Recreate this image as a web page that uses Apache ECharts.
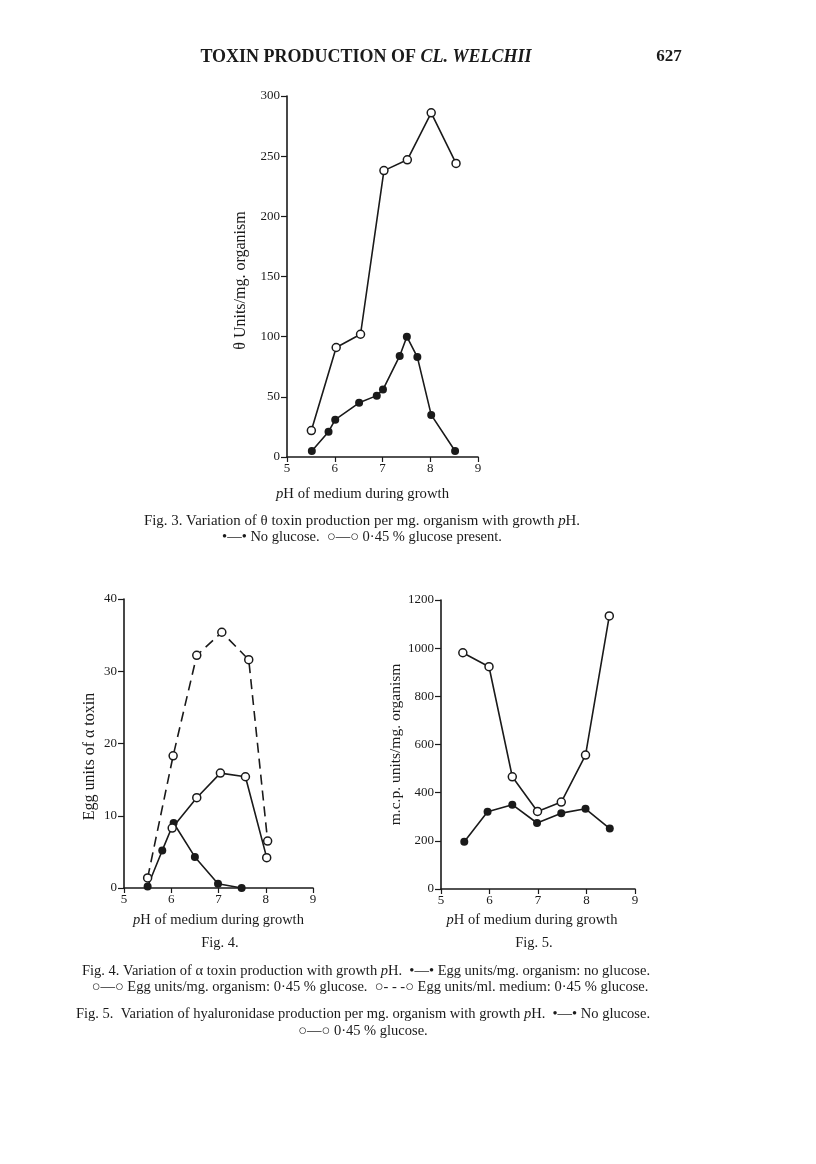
<!DOCTYPE html>
<html>
<head>
<meta charset="utf-8">
<script src="https://cdn.jsdelivr.net/npm/echarts@6/dist/echarts.min.js"></script>
<style>
html,body{margin:0;padding:0;background:#fff;}
#chart{width:816px;height:1164px;}
</style>
</head>
<body>
<div id="chart"></div>
<script>
// ---- Data ----
const xTicks = [5, 6, 7, 8, 9];

// Fig. 3: theta toxin units/mg organism
const fig3NoGlucosePH = [5.52, 5.87, 6.01, 6.51, 6.88, 7.01, 7.36, 7.51, 7.73, 8.02, 8.52];
const fig3NoGlucose   = [5, 21, 31, 45, 51, 56, 84, 100, 83, 35, 5];
const fig3GlucosePH   = [5.51, 6.03, 6.54, 7.03, 7.52, 8.02, 8.54];
const fig3Glucose     = [22, 91, 102, 238, 247, 286, 244];

// Fig. 4: alpha toxin egg units
const fig4NoGlucosePH  = [5.5, 5.81, 6.05, 6.5, 6.99, 7.49];
const fig4NoGlucose    = [0.2, 5.2, 9.0, 4.3, 0.6, 0];
const fig4MgGlucosePH  = [6.02, 6.54, 7.04, 7.57, 8.02];
const fig4MgGlucose    = [8.3, 12.5, 15.9, 15.4, 4.2];
const fig4MlGlucosePH  = [5.5, 6.04, 6.54, 7.07, 7.64, 8.04];
const fig4MlGlucose    = [1.4, 18.3, 32.2, 35.4, 31.6, 6.5];

// Fig. 5: hyaluronidase m.c.p. units/mg organism
const fig5NoGlucosePH = [5.48, 5.96, 6.47, 6.98, 7.48, 7.98, 8.48];
const fig5NoGlucose   = [196, 321, 350, 274, 315, 333, 251];
const fig5GlucosePH   = [5.45, 5.99, 6.47, 6.99, 7.48, 7.98, 8.47];
const fig5Glucose     = [981, 923, 466, 322, 361, 556, 1134];

const pairs = (xs, ys) => xs.map((x, i) => [x, ys[i]]);

const FONT = '"Liberation Serif", "DejaVu Serif", serif';
const INK = '#1a1a1a';

function xAxisCfg(gridIndex, nameGap, nameSize, namePad) {
  return {
    type: 'value', gridIndex, min: 5, max: 9, interval: 1,
    name: '{i|p}H of medium during growth', nameLocation: 'middle', nameGap,
    nameTextStyle: { fontFamily: FONT, fontSize: nameSize, color: INK, padding: namePad || 0,
      rich: { i: { fontFamily: FONT, fontStyle: 'italic', fontSize: nameSize, color: INK } } },
    axisLine: { lineStyle: { color: INK, width: 1.6 } },
    axisTick: { length: 5, lineStyle: { color: INK, width: 1.2 } },
    axisLabel: { fontFamily: FONT, fontSize: 13, color: INK, margin: 5 },
    splitLine: { show: false }
  };
}
function yAxisCfg(gridIndex, max, interval, name, nameGap, nameSize, namePad) {
  return {
    type: 'value', gridIndex, min: 0, max, interval,
    name, nameLocation: 'middle', nameGap,
    nameTextStyle: { fontFamily: FONT, fontSize: nameSize, color: INK, padding: namePad || 0 },
    axisLine: { show: true, lineStyle: { color: INK, width: 1.6 } },
    axisTick: { show: true, length: 6, lineStyle: { color: INK, width: 1.2 } },
    axisLabel: { fontFamily: FONT, fontSize: 13, color: INK, margin: 7,
      formatter: v => String(v) },
    splitLine: { show: false }
  };
}
function filled(xi, data) {
  return { type: 'line', xAxisIndex: xi, yAxisIndex: xi, data, symbol: 'circle', symbolSize: 8,
    itemStyle: { color: INK }, lineStyle: { color: INK, width: 1.6 }, z: 2, animation: false };
}
function open(xi, data, dashed) {
  return { type: 'line', xAxisIndex: xi, yAxisIndex: xi, data, symbol: 'circle', symbolSize: 8,
    itemStyle: { color: '#fff', borderColor: INK, borderWidth: 1.5 },
    lineStyle: { color: INK, width: 1.6, type: dashed ? [10, 6] : 'solid' }, z: 3, animation: false };
}
function txt(x, y, text, size) {
  const s = size || 14.5;
  return {
    type: 'text', x, y,
    style: { text, fill: INK, font: s + 'px ' + FONT, align: 'center', verticalAlign: 'middle',
      rich: { i: { font: 'italic ' + s + 'px ' + FONT, fill: INK } } }
  };
}

const chart = echarts.init(document.getElementById('chart'), null, { renderer: 'canvas' });
chart.setOption({
  backgroundColor: '#fff',
  animation: false,
  grid: [
    { left: 287, top: 96, width: 191, height: 361 },
    { left: 124, top: 599, width: 189, height: 289 },
    { left: 441, top: 600, width: 194, height: 289 }
  ],
  xAxis: [
    xAxisCfg(0, 30, 14.7, [0, 40, 0, 0]),
    xAxisCfg(1, 25, 14.5),
    xAxisCfg(2, 24, 14.5, [0, 12, 0, 0])
  ],
  yAxis: [
    yAxisCfg(0, 300, 50, 'θ Units/mg. organism', 38, 16, [0, 8, 0, 0]),
    yAxisCfg(1, 40, 10, 'Egg units of α toxin', 26, 16, [0, 26, 0, 0]),
    yAxisCfg(2, 1200, 200, 'm.c.p. units/mg. organism', 36, 15.5)
  ],
  series: [
    filled(0, pairs(fig3NoGlucosePH, fig3NoGlucose)),
    open(0, pairs(fig3GlucosePH, fig3Glucose), false),
    filled(1, pairs(fig4NoGlucosePH, fig4NoGlucose)),
    open(1, pairs(fig4MlGlucosePH, fig4MlGlucose), true),
    open(1, pairs(fig4MgGlucosePH, fig4MgGlucose), false),
    filled(2, pairs(fig5NoGlucosePH, fig5NoGlucose)),
    open(2, pairs(fig5GlucosePH, fig5Glucose), false)
  ],
  graphic: [
    {
      type: 'text', x: 366, y: 57,
      style: {
        text: 'TOXIN PRODUCTION OF {i|CL. WELCHII}',
        rich: { i: { font: 'italic bold 18px ' + FONT, fill: INK } },
        font: 'bold 18px ' + FONT, fill: INK, align: 'center', verticalAlign: 'middle'
      }
    },
    {
      type: 'text', x: 669, y: 57,
      style: { text: '627', fill: INK, font: 'bold 17px ' + FONT, align: 'center', verticalAlign: 'middle' }
    },
    txt(362, 521, 'Fig. 3. Variation of θ toxin production per mg. organism with growth {i|p}H.', 14.9),
    txt(362, 537, '•—• No glucose.  ○—○ 0·45 % glucose present.'),
    txt(220, 943, 'Fig. 4.'),
    txt(534, 943, 'Fig. 5.'),
    txt(366, 971, 'Fig. 4. Variation of α toxin production with growth {i|p}H.  •—• Egg units/mg. organism: no glucose.'),
    txt(370, 987, '○—○ Egg units/mg. organism: 0·45 % glucose.  ○- - -○ Egg units/ml. medium: 0·45 % glucose.'),
    txt(363, 1014, 'Fig. 5.  Variation of hyaluronidase production per mg. organism with growth {i|p}H.  •—• No glucose.'),
    txt(363, 1031, '○—○ 0·45 % glucose.')
  ]
});
</script>
</body>
</html>
